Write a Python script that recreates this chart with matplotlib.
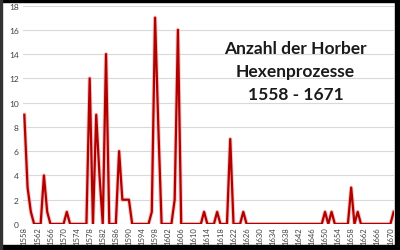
import matplotlib.pyplot as plt
import matplotlib.patches as mpatches
import numpy as np

# Anzahl der Prozesse pro Jahr, 1558 - 1671
years = list(range(1558, 1672))
counts = [
    9, 3, 1, 0, 0, 0, 4, 1, 0, 0,        # 1558-1567
    0, 0, 0, 1, 0, 0, 0, 0, 0, 0,        # 1568-1577
    12, 0, 9, 4, 0, 14, 0, 0, 0, 6,      # 1578-1587
    2, 2, 2, 0, 0, 0, 0, 0, 0, 1,        # 1588-1597
    17, 8, 0, 0, 0, 0, 2, 16, 0, 0,      # 1598-1607
    0, 0, 0, 0, 0, 1, 0, 0, 0, 1,        # 1608-1617
    0, 0, 0, 7, 0, 0, 0, 1, 0, 0,        # 1618-1627
    0, 0, 0, 0, 0, 0, 0, 0, 0, 0,        # 1628-1637
    0, 0, 0, 0, 0, 0, 0, 0, 0, 0,        # 1638-1647
    0, 0, 1, 0, 1, 0, 0, 0, 0, 0,        # 1648-1657
    3, 0, 1, 0, 0, 0, 0, 0, 0, 0,        # 1658-1667
    0, 0, 0, 1,                          # 1668-1671
]
x_ticks = list(range(1558, 1671, 4))
y_ticks = list(range(0, 19, 2))
title = "Anzahl der Horber\nHexenprozesse\n1558 - 1671"

plt.rcParams['font.family'] = ['Lato', 'DejaVu Sans']

fig = plt.figure(figsize=(4.0, 2.51), dpi=100)
ax = fig.add_axes([0.0575, 0.1036, 0.9275, 0.8704])

# leichter Schein unter der Linie
ax.plot(years, counts, color='#f4a0a0', linewidth=3.0, alpha=0.6, zorder=2)
ax.plot(years, counts, color='#b00000', linewidth=1.6, zorder=3)

ax.set_xlim(1557.6, 1671.1)
ax.set_ylim(0, 18)
ax.set_xticks(x_ticks)
ax.set_xticklabels([str(y) for y in x_ticks], rotation=90, fontsize=5.5, color='#404040')
ax.set_yticks(y_ticks)
ax.set_yticklabels([str(v) for v in y_ticks], fontsize=6, color='#404040')
ax.tick_params(axis='x', length=0, pad=1.5)
ax.tick_params(axis='y', length=0, pad=3)
ax.grid(axis='y', color='#d9d9d9', linewidth=0.8)
ax.set_axisbelow(True)
for s in ax.spines.values():
    s.set_visible(False)

ax.text(0.735, 0.70, title, transform=ax.transAxes, ha='center', va='center',
        fontsize=12.5, fontweight='bold', color='#1a1a1a', linespacing=1.55)

# schwarzer Rahmen
fig.patches.append(mpatches.Rectangle((0, 0.988), 1, 0.012, transform=fig.transFigure,
                                      color='black', zorder=10))
fig.patches.append(mpatches.Rectangle((0.988, 0), 0.012, 1, transform=fig.transFigure,
                                      color='black', zorder=10))
fig.patches.append(mpatches.Rectangle((0, 0), 1, 0.018, transform=fig.transFigure,
                                      color='black', zorder=10))
fig.patches.append(mpatches.Rectangle((0, 0), 0.004, 1, transform=fig.transFigure,
                                      color='#333333', zorder=10))

fig.savefig('out.png', dpi=100)
